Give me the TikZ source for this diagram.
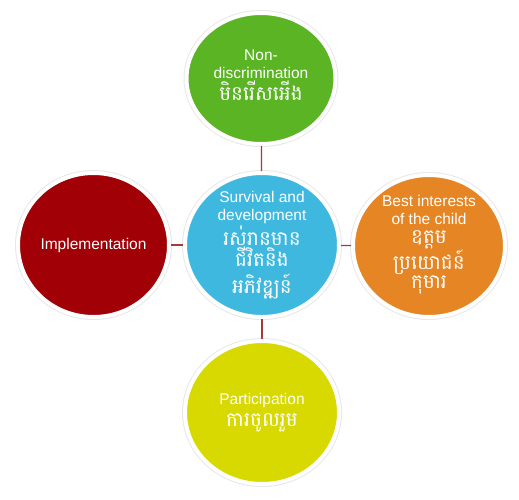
\documentclass[tikz,border=0pt]{standalone}
\usepackage{fontspec}
\usepackage{xcolor}
\usepackage{tikz}
\usetikzlibrary{shapes.geometric}
\setmainfont{Liberation Sans}
\newfontfamily\khmerfont[Script=Khmer]{Battambang}
\definecolor{nondiscfill}{HTML}{5AB423}
\definecolor{survfill}{HTML}{3FB8E0}
\definecolor{implfill}{HTML}{A00006}
\definecolor{bestfill}{HTML}{E58524}
\definecolor{partfill}{HTML}{D8D900}
\definecolor{linkcol}{HTML}{A33B3B}
\newcommand{\kh}[1]{{\khmerfont\fontsize{20}{22}\selectfont #1}}

\begin{document}
\begin{tikzpicture}[x=1pt,y=1pt,
bubble/.style={ellipse,fill=#1,draw=white,line width=4pt,inner sep=0pt,
  preaction={draw=black!9,line width=6pt}},
txt/.style={text=white,align=center,inner sep=0pt,font=\fontsize{15.5}{17.5}\selectfont},
link/.style={draw=linkcol,line width=1.3pt}]
\useasboundingbox (0,0) rectangle (519,-499);
\node[bubble=survfill,minimum width=154pt,minimum height=144pt] (surv) at (262,-245) {};
\node[bubble=nondiscfill,minimum width=149pt,minimum height=131pt] (nondisc) at (261,-78.5) {};
\node[bubble=implfill,minimum width=151pt,minimum height=144pt] (impl) at (93.5,-245) {};
\node[bubble=bestfill,minimum width=152pt,minimum height=142pt] (best) at (429,-246) {};
\node[bubble=partfill,minimum width=154pt,minimum height=143pt] (part) at (262,-412.5) {};
% labels
\node[txt] (survT) at (surv) {Survival and\\development\\[2pt]\kh{រស់រានមាន}\\[0pt]\kh{ជីវិតនិង}\\[6pt]\kh{អភិវឌ្ឍន៍}};
\node[txt] (nondiscT) at ([yshift=3pt]nondisc.center) {Non-\\discrimination\\[2pt]\kh{មិនរើសអើង}};
\node[txt] (implT) at (impl) {Implementation};
\node[txt] (bestT) at ([yshift=1pt]best.center) {Best interests\\of the child\\[2pt]\kh{ឧត្តម}\\[0pt]\kh{ប្រយោជន៍}\\[0pt]\kh{កុមារ}};
\node[txt] (partT) at (part) {Participation\\[5pt]\kh{ការចូលរួម}};
% links
\draw[link] (nondisc) -- (surv);
\draw[link] (impl) -- (surv);
\draw[link] (best) -- (surv);
\draw[link] (part) -- (surv);
\end{tikzpicture}
\end{document}
